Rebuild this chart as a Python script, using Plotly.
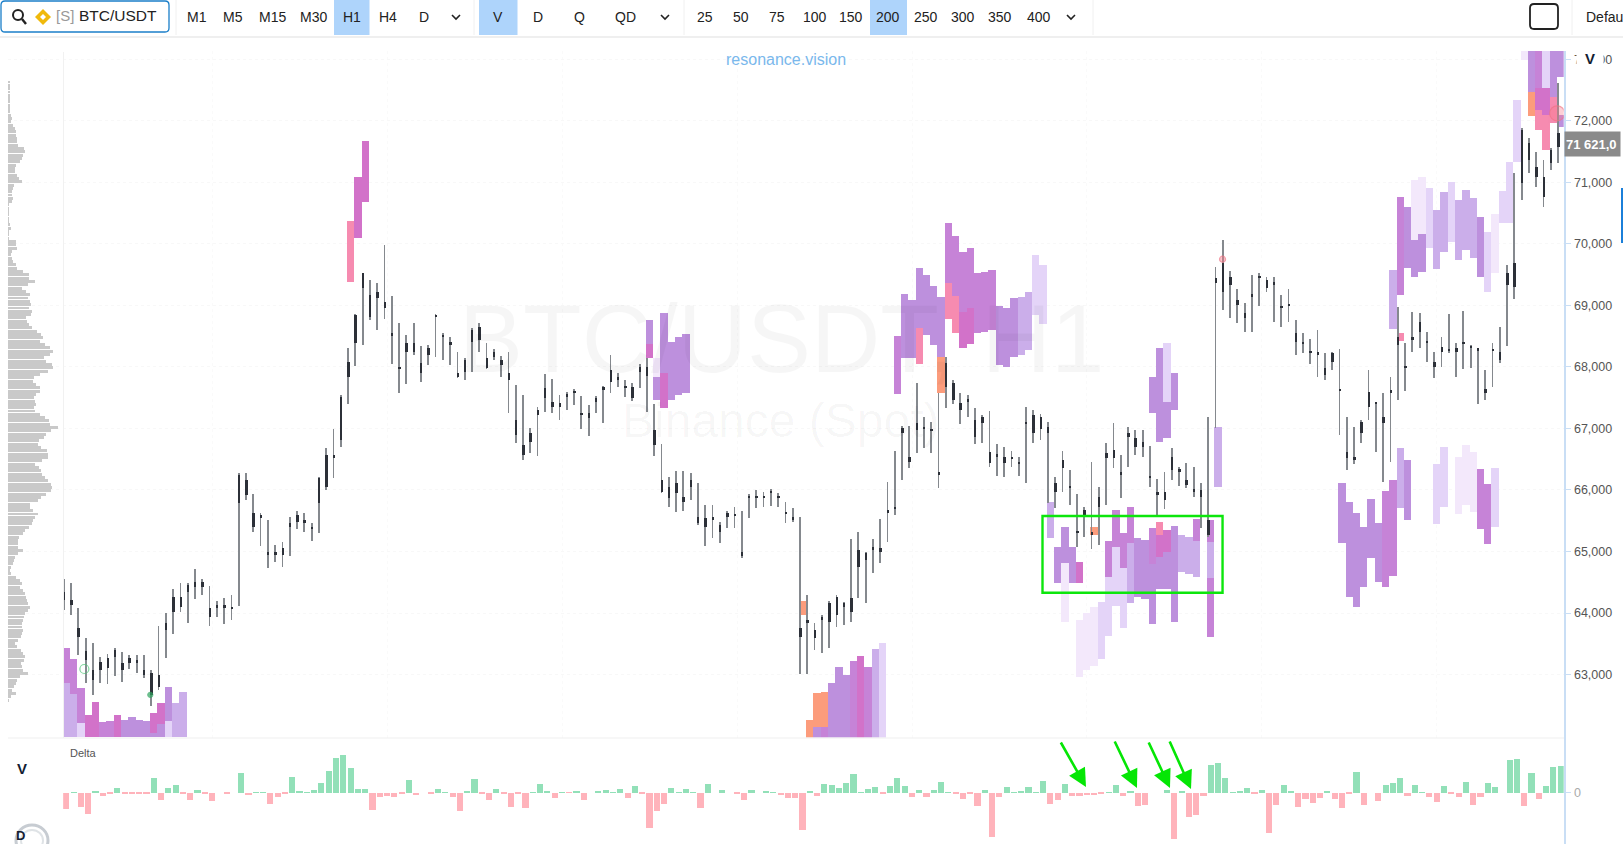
import plotly.graph_objects as go

W = 1623
H = 844

# hourly bars
candle_high = [
    64547, 64493, 64076, 63588, 63518, 63279, 63328, 63425, 63371, 63317,
    63317, 63317, 63073, 63794, 63994, 64384, 64482, 64482, 64710, 64547,
    64439, 64195, 64238, 64292, 66270, 66280, 65928, 65620, 65511, 65105,
    65159, 65555, 65663, 65630, 65457, 66215, 66676, 66985, 67543, 68301,
    68854, 69531, 69411, 69368, 69980, 69151, 68707, 68518, 68707, 68339,
    68355, 68854, 68545, 68491, 68247, 68138, 68626, 68707, 68393, 68285,
    68176, 68247, 67705, 67543, 67001, 67342, 67884, 67797, 67543, 67597,
    67635, 67526, 67380, 67526, 67689, 68193, 67895, 67786, 67732, 68046,
    68138, 67396, 66746, 66215, 66313, 66313, 66280, 66107, 65755, 65755,
    65484, 65663, 65717, 65663, 65934, 65999, 65972, 66010, 65955, 65809,
    65701, 65565, 64292, 63832, 63967, 64194, 64292, 64184, 65197, 65321,
    64996, 65197, 65522, 66134, 66637, 67038, 67038, 67742, 67190, 67109,
    67569, 68165, 67786, 67580, 67542, 67325, 67217, 67282, 66746, 66702,
    66637, 66529, 67342, 67298, 67233, 67109, 66215, 66637, 66323, 65933,
    65727, 66459, 66052, 66767, 67082, 66567, 67027, 66973, 66973, 66713,
    66172, 66296, 66675, 66377, 66432, 66367, 66107, 67190, 69628, 70061,
    69563, 69259, 69032, 69492, 69519, 69465, 69465, 69167, 69259, 68761,
    68544, 68447, 68598, 68230, 68246, 68284, 67179, 67027, 67136, 67948,
    67434, 67580, 67840, 68978, 68393, 68896, 68869, 68571, 68246, 68490,
    68853, 68393, 68913, 68355, 68300, 67948, 68393, 68652, 69655, 71144,
    71875, 71713, 71496, 71361, 71550, 72607,
]
candle_low = [
    64049, 63967, 63317, 62857, 62667, 62868, 62846, 62976, 62884, 63084,
    63030, 62938, 62488, 62748, 63263, 63659, 64022, 63843, 64222, 64292,
    63788, 63940, 63821, 63886, 64114, 65836, 65322, 65089, 64726, 64834,
    64753, 64926, 65365, 65322, 65175, 65305, 65999, 66188, 66703, 67391,
    68014, 68355, 68761, 68599, 68772, 68041, 67581, 67716, 68193, 67759,
    68030, 68166, 68111, 68030, 67813, 67786, 67922, 68247, 67960, 68111,
    67841, 67245, 66757, 66486, 66595, 66551, 67272, 67255, 67136, 67299,
    67380, 66985, 66876, 67255, 67082, 67570, 67667, 67516, 67450, 67651,
    67272, 66557, 65944, 65717, 65647, 65663, 65836, 65430, 65089, 65213,
    65143, 65376, 65376, 64888, 65538, 65701, 65717, 65739, 65728, 65468,
    65484, 63008, 63008, 63399, 63344, 63425, 63777, 63805, 63858, 64238,
    64167, 64655, 64806, 65159, 65592, 66161, 66350, 66594, 66675, 66605,
    66025, 67325, 67396, 67071, 67190, 66746, 66767, 66377, 66226, 66204,
    66367, 66226, 66117, 66767, 66811, 65781, 65700, 65971, 65754, 65077,
    65240, 65034, 65104, 65754, 66350, 65863, 66377, 66567, 66529, 66052,
    65576, 65684, 66161, 66063, 66025, 65879, 65375, 65240, 67000, 68923,
    68788, 68718, 68571, 68571, 68988, 69221, 68734, 68642, 68734, 68192,
    68230, 68046, 67829, 67786, 67948, 66892, 66323, 66421, 66767, 67136,
    66621, 66134, 66459, 67461, 67613, 68246, 68300, 68084, 67813, 68003,
    68230, 67840, 67959, 67975, 67396, 67461, 67667, 68057, 68338, 69097,
    70711, 71144, 70917, 70592, 71199, 71307,
]
body_top = [
    64346, 64211, 63751, 63388, 63073, 63209, 63263, 63398, 63182, 63263,
    63236, 63073, 63019, 62992, 63832, 64265, 64265, 64455, 64509, 64509,
    64076, 64130, 64130, 64103, 66242, 66161, 65620, 65592, 64997, 64997,
    65051, 65468, 65592, 65511, 65403, 66188, 66568, 66568, 67516, 68084,
    68843, 69520, 69168, 69222, 69059, 68545, 68003, 68382, 68382, 68057,
    68301, 68843, 68518, 68409, 67895, 68111, 68599, 68653, 68138, 68247,
    68111, 67895, 67136, 66730, 66920, 67299, 67651, 67434, 67407, 67559,
    67613, 67255, 67245, 67488, 67667, 67949, 67841, 67694, 67678, 68003,
    68003, 66974, 66161, 66053, 66107, 65890, 66161, 65565, 65538, 65565,
    65430, 65620, 65609, 64997, 65907, 65907, 65907, 65988, 65907, 65636,
    65565, 63751, 63886, 63724, 63940, 64156, 64265, 64156, 64238, 65023,
    64969, 65066, 65050, 65673, 65727, 67000, 66540, 67082, 67017, 66990,
    66285, 68057, 67732, 67407, 67477, 67136, 67190, 66621, 66583, 66540,
    66529, 66459, 67098, 67217, 67190, 67027, 66107, 66486, 66069, 65337,
    65673, 65321, 65890, 66594, 66648, 66285, 66919, 66838, 66784, 66231,
    65971, 65971, 66540, 66339, 66161, 66014, 65998, 65511, 69438, 69682,
    69465, 69086, 68869, 69183, 69481, 69411, 69373, 68985, 69021, 68544,
    68398, 68262, 68235, 67975, 68230, 67640, 66621, 66540, 67109, 67596,
    67423, 67190, 67623, 68490, 68019, 68490, 68734, 68425, 68084, 68328,
    68290, 68300, 68398, 68344, 68300, 67634, 68290, 68246, 69519, 69682,
    71848, 71632, 71253, 71090, 71523, 71794,
]
body_bottom = [
    64211, 64130, 63615, 63236, 62911, 63073, 63101, 63290, 63073, 63182,
    63182, 62992, 62667, 62803, 63724, 64022, 64103, 64346, 64428, 64428,
    63940, 64076, 64076, 64076, 65782, 65917, 65403, 65538, 64942, 64942,
    64942, 65403, 65484, 65457, 65376, 65782, 66053, 66513, 66811, 67840,
    68382, 69276, 68816, 69113, 68951, 68501, 67960, 68247, 68247, 67895,
    68193, 68816, 68491, 68355, 67841, 67922, 68409, 68436, 67976, 68166,
    68030, 67786, 66893, 66568, 66784, 67218, 67488, 67353, 67353, 67516,
    67570, 67223, 67163, 67434, 67635, 67759, 67786, 67662, 67488, 67922,
    67851, 66730, 65972, 65863, 65945, 65809, 66053, 65457, 65403, 65511,
    65322, 65565, 65576, 64926, 65874, 65874, 65874, 65955, 65874, 65603,
    65511, 63615, 63832, 63588, 63885, 63858, 63967, 64102, 64021, 64752,
    64861, 65034, 64996, 65619, 65684, 66919, 66459, 66973, 66984, 66957,
    66253, 67678, 67461, 67298, 67445, 66865, 67082, 66432, 66551, 66432,
    66496, 66426, 67065, 66919, 66998, 66919, 65971, 66350, 66036, 65305,
    65592, 65267, 65727, 66513, 66513, 66253, 66865, 66702, 66702, 66199,
    65917, 65836, 66323, 66307, 66079, 65982, 65890, 65267, 69357, 69221,
    69330, 69005, 68788, 69151, 69449, 69276, 69341, 68952, 68988, 68409,
    68365, 68230, 68203, 67867, 68084, 67607, 66513, 66486, 66919, 67353,
    67390, 67082, 67569, 68355, 67986, 68436, 68571, 68393, 68003, 68246,
    68257, 68246, 68365, 68311, 68268, 67569, 68257, 68111, 69330, 69303,
    70982, 71361, 71090, 70765, 71307, 71577,
]

# delta histogram, one value per bar
delta = [
    -50, 1, -44, -65, 3, -11, -2, 15, -4, -2,
    -2, -3, 43, -22, 15, 24, -5, -21, 8, -4,
    -24, 0, -4, 0, 58, -8, 2, 2, -35, -13,
    -3, 47, 5, 2, 7, 28, 65, 105, 112, 75,
    12, 12, -53, -12, -10, -12, -3, 38, -8, 0,
    -3, 10, 1, -14, -54, 4, 41, -2, -22, 11,
    -5, -43, -5, -45, 1, 26, 5, -16, 1, -1,
    6, -23, 0, 5, 8, 1, 11, -17, 21, -5,
    -105, -55, -33, 14, 2, 11, 2, -45, 26, 0,
    8, 0, -2, -23, 7, 0, 6, 2, -8, -17,
    -17, -111, 6, -11, 26, 22, 14, 29, 57, 2,
    11, 16, -5, 20, 44, 20, -12, 8, -14, 9,
    31, 2, -5, -20, -2, -39, 7, -134, -12, 18,
    2, 5, 17, 2, 35, -35, -21, 27, -10, -11,
    -6, -8, -3, 1, 22, -11, 6, -40, -37, 0,
    0, 8, -138, 3, -73, -68, -9, 82, 88, 43,
    2, 3, 15, -2, 8, -120, -38, 23, 5, -42,
    -20, -32, -15, 3, -18, -46, -4, 62, -37, 0,
    -26, 23, 30, 43, -10, 23, 1, -13, -28, 20,
    -2, -13, 32, -36, -13, 28, 18, 0, 98, 102,
    -41, 59, -18, 20, 76, 80,
]

# resonance heat blocks: bar, low, high, tone
heat_bar = [
    0, 0, 1, 1, 2, 2, 3, 4, 5, 6, 7, 8, 9, 10, 11, 12, 12, 13, 13, 14, 14, 15, 16,
    39, 40, 41,
    80, 80, 81, 81, 82, 82, 83, 84, 85, 101,
    102, 103, 103, 104, 104, 105, 106, 107, 108, 109, 110, 111, 112,
    114, 115, 116, 117, 117, 118, 119, 120, 120, 121, 121, 122, 122, 123, 123, 124, 124,
    125, 126, 127, 128, 129, 130, 131, 132, 133, 134,
    149, 150, 151, 151, 152,
    135, 136, 137, 137, 138, 139, 139, 140, 141, 141, 142, 143, 143, 144, 144, 145, 145,
    146, 146, 147, 148, 149, 149, 150, 150, 150, 151, 151, 152, 153, 154, 155, 155,
    157, 157, 157, 158,
    175, 176, 177, 178, 179, 180, 181, 182, 183, 183, 184, 188, 189, 191, 192, 193, 194, 195, 196,
    182, 183, 184, 185, 185, 186, 186, 187, 188, 189, 190, 191, 192, 193, 194, 195, 196, 197, 198, 199,
    200, 201, 201, 202, 202, 202, 203, 203, 203, 204, 204, 205, 205,
]
heat_low = [
    62868, 61979, 62678, 61979, 62218, 61979, 61979, 61979, 61979, 61979, 61979, 61979, 61979, 61979, 61979,
    62044, 61979, 62196, 61979, 62250, 61979, 61979, 61979,
    69384, 70099, 70674,
    68371, 68149, 67840, 67461, 67906, 67326, 67461, 67543, 67581, 63967,
    61975, 62142, 61975, 62142, 61975, 61975, 61975, 61975, 61975, 61975, 61975, 61975, 61975,
    67553, 68138, 68138, 68625, 68046, 68517, 68355, 68165, 67569, 69357, 68772, 69151, 68544, 68896, 68300, 68950, 68365,
    68555, 68571, 68598, 68030, 68003, 68165, 68192, 68273, 68842, 68696,
    67255, 66784, 67434, 66838, 67298,
    65224, 64492, 64807, 63859, 64492, 64481, 62954, 63073, 63138, 65267, 63246, 64590, 63626, 65077, 64113, 64725, 63750,
    65132, 64157, 64254, 64227, 64796, 63821, 65267, 64915, 64384, 64996, 64384, 63859, 64671, 64633, 65175, 64590,
    65159, 64563, 63615, 66042,
    65142, 64265, 64091, 64427, 64888, 64508, 64427, 64601, 65700, 68425, 65511, 65446, 65727, 65608, 65754, 65646, 65359, 65121, 65391,
    68609, 69172, 69611, 69454, 70061, 69546, 70158, 69925, 69584, 69871, 70034, 69736, 69898, 69763, 69465, 69221, 69519, 70342, 70342, 71334,
    72986, 72460, 72081, 72525, 72173, 71848, 72525, 72092, 71523, 72390, 71957, 72704, 71903,
]
heat_high = [
    63436, 62868, 63252, 62678, 62786, 62218, 62342, 62548, 62234, 62245, 62342, 62261, 62304, 62261, 62250,
    62380, 62044, 62532, 62196, 62803, 62250, 62532, 62710,
    70375, 71080, 71665,
    68761, 68371, 68138, 67840, 68870, 67906, 68409, 68491, 68528, 64195,
    62261, 62694, 62142, 62721, 62142, 62867, 63127, 62992, 63225, 63300, 63127, 63409, 63507,
    68501, 69183, 69086, 69601, 68625, 69492, 69319, 69140, 68165, 70343, 69357, 70126, 69151, 69861, 68896, 69926, 68950,
    69519, 69546, 69573, 68988, 68950, 69113, 69140, 69221, 69817, 69655,
    67840, 68300, 68382, 67434, 67894,
    65809, 65077, 65403, 64807, 65077, 64834, 63886, 63994, 64102, 65403, 64184, 65170, 64590, 65673, 65077, 65305, 64725,
    65717, 65132, 65213, 65186, 65375, 64796, 65484, 65267, 64915, 65348, 64996, 65413, 65267, 65240, 65522, 65175,
    65511, 65159, 64563, 67028,
    66117, 65809, 65630, 65392, 65847, 65467, 65987, 66161, 66675, 68555, 66486, 66421, 66702, 66540, 66729, 66610, 66334, 66090, 66350,
    69573, 70765, 70592, 70061, 71036, 70158, 71090, 70900, 70548, 70846, 71009, 70711, 70873, 70738, 70440, 70196, 70483, 70862, 71323, 72336,
    73133, 73133, 72460, 73133, 72525, 72173, 73133, 72525, 72092, 73133, 72390, 73133, 72092,
]
heat_tone = [
    1, 4, 1, 4, 1, 5, 7, 7, 1, 1, 7, 0, 0, 0, 0, 7, 0, 7, 0, 0, 5, 4, 4,
    2, 7, 7,
    0, 7, 6, 0, 0, 7, 0, 0, 0, 3,
    3, 3, 0, 3, 1, 0, 0, 0, 1, 7, 1, 4, 5,
    1, 0, 0, 0, 2, 0, 0, 0, 3, 1, 2, 1, 2, 1, 7, 1, 7,
    1, 1, 1, 0, 0, 0, 4, 4, 5, 5,
    0, 0, 5, 0, 0,
    4, 0, 0, 6, 0, 7, 6, 6, 6, 3, 5, 1, 5, 1, 5, 1, 5,
    1, 4, 0, 0, 1, 0, 2, 7, 0, 7, 0, 0, 4, 4, 1, 4,
    1, 4, 1, 4,
    0, 0, 0, 0, 0, 0, 1, 1, 4, 2, 0, 5, 5, 6, 6, 6, 1, 1, 5,
    4, 1, 0, 0, 6, 0, 6, 5, 4, 4, 5, 4, 4, 4, 0, 5, 6, 5, 5, 5,
    6, 0, 3, 1, 7, 2, 5, 7, 2, 0, 2, 0, 0,
]
heat_palette = ["#bd90dd", "#c683d7", "#f68bb0", "#fc9c7c", "#cbaeea", "#e4d4f8", "#f3e8fb", "#d272c9"]

# volume profile on the left, top row first
profile_vol = [
    2, 2, 2, 2, 2, 2, 2, 2, 2, 2, 3, 4, 3, 5, 7, 8, 8, 9, 9, 10,
    16, 17, 15, 14, 12, 8, 7, 7, 9, 11, 14, 6, 5, 4, 4, 5, 4, 1, 1, 1,
    1, 1, 1, 2, 3, 1, 1, 1, 8, 8, 9, 4, 3, 4, 5, 8, 9, 15, 21, 21,
    27, 20, 14, 18, 22, 20, 22, 23, 21, 24, 23, 18, 19, 21, 24, 29, 33, 35, 32, 37,
    42, 45, 42, 36, 38, 44, 45, 40, 32, 26, 25, 28, 32, 32, 28, 26, 27, 28, 26, 27,
    32, 37, 41, 42, 50, 43, 38, 36, 31, 30, 33, 39, 40, 40, 34, 27, 31, 33, 34, 37,
    40, 43, 44, 43, 38, 33, 30, 22, 22, 25, 30, 27, 25, 24, 21, 17, 15, 11, 10, 10,
    10, 15, 10, 7, 6, 5, 3, 2, 3, 8, 12, 14, 12, 15, 17, 18, 19, 20, 22, 20,
    17, 16, 15, 14, 14, 15, 14, 13, 10, 7, 9, 13, 15, 17, 16, 13, 14, 15, 20, 12,
    9, 8, 6, 4, 8, 3, 1,
]
profile_top = 72629
profile_step = 54
profile_price = [profile_top - profile_step * k for k in range(len(profile_vol))]

# signal dots on the price pane
dot_bar = [2.46, 11.5, 204.5, 158.6]
dot_price = [63090, 62670, 72120, 69750]

price_ticks = [63000, 64000, 65000, 66000, 67000, 68000, 69000, 70000, 71000, 72000, 73000]
day_ticks = [20, 44, 68, 92, 116, 140, 164, 188]

menu_labels = ["M1", "M5", "M15", "M30", "H1", "H4", "D", "V", "D", "Q", "QD",
               "25", "50", "75", "100", "150", "200", "250", "300", "350", "400"]
menu_x = [197, 233, 272, 313, 352, 388, 424, 498, 538, 579, 625,
          705, 741, 777, 815, 851, 888, 926, 963, 1000, 1039]

bars = list(range(len(delta)))


def px(x):
    return x / W


def py(y):
    return 1 - y / H


def label(x, y, text, size=14, color="#222", anchor="center", bold=False, **kw):
    if bold:
        text = f"<b>{text}</b>"
    return dict(x=px(x), y=py(y), xref="paper", yref="paper", text=text, showarrow=False,
                xanchor=anchor, yanchor="middle",
                font=dict(size=size, color=color, family="Liberation Sans"), **kw)


def box(x0, y0, x1, y1, **kw):
    return dict(type="rect", xref="paper", yref="paper", x0=px(x0), x1=px(x1), y0=py(y0), y1=py(y1), **kw)


def round_box(x0, y0, x1, y1, r, **kw):
    path = (f"M {px(x0+r)} {py(y0)} L {px(x1-r)} {py(y0)} Q {px(x1)} {py(y0)} {px(x1)} {py(y0+r)} "
            f"L {px(x1)} {py(y1-r)} Q {px(x1)} {py(y1)} {px(x1-r)} {py(y1)} "
            f"L {px(x0+r)} {py(y1)} Q {px(x0)} {py(y1)} {px(x0)} {py(y1-r)} "
            f"L {px(x0)} {py(y0+r)} Q {px(x0)} {py(y0)} {px(x0+r)} {py(y0)} Z")
    return dict(type="path", xref="paper", yref="paper", path=path, **kw)


def rule(x0, y0, x1, y1, color="#f0f0f0", width=1):
    return dict(type="line", xref="paper", yref="paper", x0=px(x0), x1=px(x1), y0=py(y0), y1=py(y1),
                line=dict(color=color, width=width))


def chevron(x, y):
    return dict(type="path", xref="paper", yref="paper",
                path=f"M {px(x-4)} {py(y-2)} L {px(x)} {py(y+2)} L {px(x+4)} {py(y-2)}",
                line=dict(color="#222", width=1.6))


fig = go.Figure()

fig.add_trace(go.Bar(x=heat_bar, y=[h - l for h, l in zip(heat_high, heat_low)], base=heat_low,
                     width=1, offset=-0.5, marker=dict(color=[heat_palette[t] for t in heat_tone], line_width=0),
                     xaxis="x", yaxis="y"))
fig.add_trace(go.Bar(x=bars, y=[h - l for h, l in zip(candle_high, candle_low)], base=candle_low,
                     width=0.11, offset=-0.4, marker=dict(color="#85898e", line_width=0),
                     xaxis="x", yaxis="y"))
fig.add_trace(go.Bar(x=bars, y=[t - b for t, b in zip(body_top, body_bottom)], base=body_bottom,
                     width=0.26, offset=-0.4, marker=dict(color="#2c3038", line_width=0),
                     xaxis="x", yaxis="y"))
fig.add_trace(go.Scatter(x=dot_bar, y=dot_price, mode="markers", xaxis="x", yaxis="y",
                         marker=dict(size=[9, 5, 15, 6],
                                     color=["rgba(255,255,255,0)", "#2fa45f", "rgba(250,120,135,0.5)", "rgba(250,120,135,0.6)"],
                                     line=dict(width=1.2, color=["#4fc878", "#2fa45f", "#f07484", "#f07484"]))))
fig.add_trace(go.Bar(x=profile_vol, y=profile_price, orientation="h", width=48,
                     marker=dict(color="#c9c9c9", line_width=0), xaxis="x2", yaxis="y"))
fig.add_trace(go.Bar(x=bars, y=delta, width=0.84,
                     marker=dict(color=["#92e0b8" if d >= 0 else "#ffb3bb" for d in delta], line_width=0),
                     xaxis="x3", yaxis="y3"))

shapes = [
    # toolbar
    rule(0, 37, W, 37, "#efefef", 2),
    round_box(1, 1, 169, 32, 4, line=dict(color="#1b7fc9", width=1.3), fillcolor="#ffffff"),
    box(334, 0, 369.5, 35, line_width=0, fillcolor="#aed4fb"),
    box(479, 0, 517.5, 35, line_width=0, fillcolor="#aed4fb"),
    box(870, 0, 907, 35, line_width=0, fillcolor="#aed4fb"),
    rule(176, 0, 176, 35), rule(474, 0, 474, 35), rule(684, 0, 684, 35), rule(1093, 0, 1093, 35), rule(1572, 0, 1572, 35),
    dict(type="circle", xref="paper", yref="paper", x0=px(13), x1=px(23), y0=py(20), y1=py(10),
         line=dict(color="#222", width=2)),
    rule(22, 19, 26, 24, "#222", 2.4),
    dict(type="path", xref="paper", yref="paper", fillcolor="#f0b90b", line_width=0,
         path=f"M {px(43)} {py(9)} L {px(51)} {py(17)} L {px(43)} {py(25)} L {px(35)} {py(17)} Z"),
    dict(type="path", xref="paper", yref="paper", fillcolor="#ffffff", line_width=0,
         path=f"M {px(43)} {py(14)} L {px(46)} {py(17)} L {px(43)} {py(20)} L {px(40)} {py(17)} Z"),
    chevron(456, 17), chevron(665, 17), chevron(1071, 17),
    round_box(1530, 4, 1558, 29, 4, line=dict(color="#222", width=1.8), fillcolor="#ffffff"),
    box(1621, 188, 1623, 243, line_width=0, fillcolor="#1b7fd9"),
    # panes
    rule(63.5, 52, 63.5, 738, "#f1f1f1"),
    rule(8, 738, 1564, 738, "#efefef"),
    # highlighted range
    dict(type="rect", xref="x", yref="y", x0=133.9, x1=158.6, y0=64330, y1=65576,
         line=dict(color="#0ce60c", width=2.4), fillcolor="rgba(0,0,0,0)"),
    # logo corner
    dict(type="circle", xref="paper", yref="paper", x0=px(16), x1=px(48), y0=py(856), y1=py(825),
         line=dict(color="#c7ccd2", width=3)),
    dict(type="circle", xref="paper", yref="paper", x0=px(21), x1=px(43), y0=py(851), y1=py(830),
         line=dict(color="#dfe3e6", width=2)),
]

annotations = [
    label(65, 16, "[S]", size=15, color="#999"),
    label(118, 16, "BTC/USDT", size=15.5, color="#222"),
    label(1584, 17, "Defau", size=14, color="#222", anchor="left"),
    label(786, 60, "resonance.vision", size=16, color="#7ab8ec"),
    label(781, 338, "BTC/USDT, H1", size=96, color="rgba(0,0,0,0.035)"),
    label(781, 421, "Binance (Spot)", size=48, color="rgba(0,0,0,0.035)"),
    label(1590, 58.7, "V", size=15, color="#141d33", bold=True, bgcolor="#ffffff", width=24),
    label(1564, 144, "71 621,0", size=13, color="#ffffff", anchor="left", bold=True, bgcolor="#8a8a8a",
          width=53, height=22, align="left"),
    label(68, 753, "Delta", size=11, color="#555", anchor="left"),
    label(22, 768, "V", size=15, color="#141d33", bold=True),
    label(20, 835, "D", size=13, color="#141d33", bold=True),
]
for name, xpos in zip(menu_labels, menu_x):
    annotations.append(label(xpos, 17, name, size=14, color="#222"))

# green arrows pointing at the delta bars
for x0, y0, x1, y1 in [(1060, 741, 1086, 787), (1114, 740, 1137, 788), (1148, 741, 1170, 788), (1169, 740, 1191, 789)]:
    annotations.append(dict(x=px(x1), y=py(y1), xref="paper", yref="paper", ax=x0 - x1, ay=y0 - y1,
                            axref="pixel", ayref="pixel", text="", showarrow=True, arrowhead=2,
                            arrowsize=1.4, arrowwidth=2.6, arrowcolor="#05e605"))

fig.update_layout(
    width=W, height=H, margin=dict(l=0, r=0, t=0, b=0), showlegend=False, barmode="overlay",
    paper_bgcolor="#ffffff", plot_bgcolor="rgba(0,0,0,0)", bargap=0,
    font=dict(family="Liberation Sans"),
    xaxis=dict(domain=[px(63.16), px(1563.7)], range=[-0.45, 205.4], showticklabels=False, ticks="",
               tickmode="array", tickvals=day_ticks, showgrid=True, gridcolor="#fafafa", griddash="dot",
               zeroline=False, showline=False, anchor="y"),
    yaxis=dict(domain=[py(737.5), py(51)], range=[61977, 73133], side="right", anchor="x",
               tickmode="array", tickvals=price_ticks, tickformat=",", ticks="outside", ticklen=6, tickwidth=1,
               tickcolor="#c9def5", showline=True, linecolor="#c9def5", linewidth=1.5,
               tickfont=dict(size=12.5, color="#555"), showgrid=True, gridcolor="#f8f8f8", griddash="dot",
               zeroline=False),
    xaxis2=dict(domain=[px(8), px(60)], range=[0, 52], visible=False, anchor="free", position=0),
    xaxis3=dict(domain=[px(63.16), px(1563.7)], range=[-0.45, 205.4], showticklabels=False, ticks="",
                tickmode="array", tickvals=day_ticks, showgrid=False, zeroline=False, anchor="y3"),
    yaxis3=dict(domain=[0, py(738)], range=[-154, 164], side="right", anchor="x3",
                tickmode="array", tickvals=[0], ticks="outside", ticklen=6, tickwidth=1, tickcolor="#c9def5",
                showline=True, linecolor="#c9def5", linewidth=1.5,
                tickfont=dict(size=12.5, color="#aaa"), showgrid=False, zeroline=False),
    shapes=shapes,
    annotations=annotations,
    hovermode=False,
)

fig.write_html("out.html", config=dict(displayModeBar=False), post_script="document.body.style.margin='0';")
